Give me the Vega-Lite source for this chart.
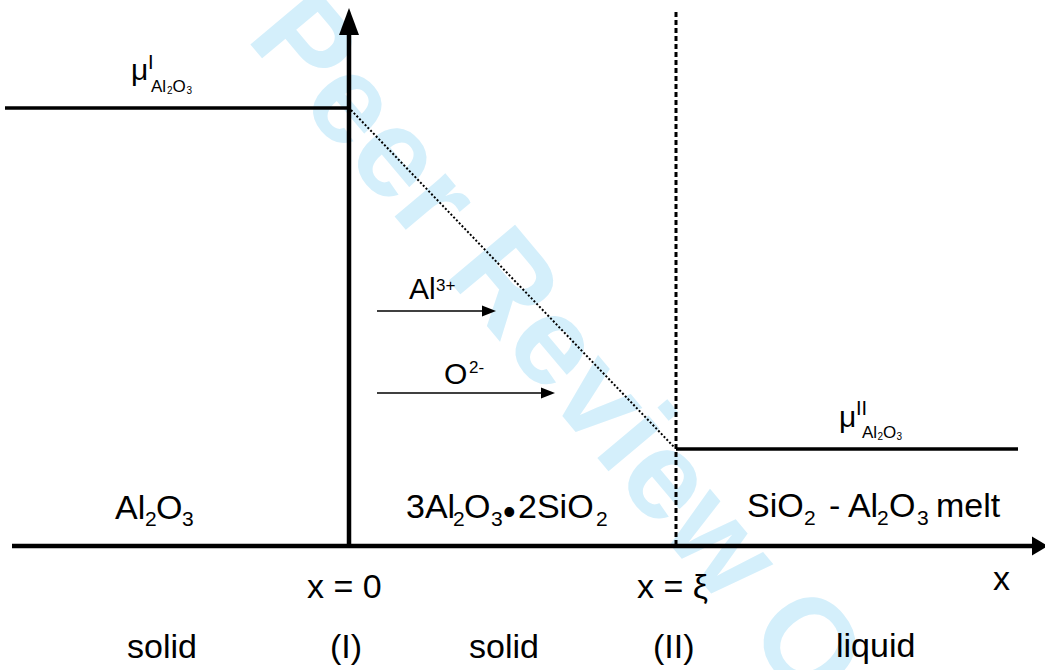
{
  "$schema": "https://vega.github.io/schema/vega-lite/v6.json",
  "width": 1045,
  "height": 670,
  "autosize": {"type": "none"},
  "padding": 0,
  "background": "white",
  "config": {"view": {"stroke": null}},
  "datasets": {
    "wm": [{"t": "Peer Review Only", "x": 245, "y": 38}],
    "axes": [
      {"x": 12, "y": 546, "x2": 1034, "y2": 546},
      {"x": 349, "y": 546, "x2": 349, "y2": 30}
    ],
    "mu": [
      {"x": 5, "y": 108, "x2": 349, "y2": 108},
      {"x": 676, "y": 449, "x2": 1018, "y2": 449}
    ],
    "dotted": [{"x": 351, "y": 110, "x2": 674, "y2": 447}],
    "dashed": [{"x": 676, "y": 12, "x2": 676, "y2": 546}],
    "thin": [
      {"x": 377, "y": 311, "x2": 486, "y2": 311},
      {"x": 377, "y": 393, "x2": 545, "y2": 393}
    ],
    "headRightBig": [{"x": 1048, "y": 546}],
    "headUp": [{"x": 349, "y": 8}],
    "headRightSmall": [{"x": 496, "y": 311}, {"x": 555, "y": 393}],
    "labels": [
      {"t": "Al", "x": 115, "y": 519, "role": "main"},
      {"t": "2", "x": 145, "y": 526, "role": "sub"},
      {"t": "O", "x": 156, "y": 519, "role": "main"},
      {"t": "3", "x": 182, "y": 526, "role": "sub"},
      {"t": "3Al", "x": 406, "y": 518, "role": "main"},
      {"t": "2", "x": 453, "y": 526, "role": "sub"},
      {"t": "O", "x": 464, "y": 518, "role": "main"},
      {"t": "3", "x": 491, "y": 526, "role": "sub"},
      {"t": "•", "x": 503, "y": 524, "role": "bullet"},
      {"t": "2SiO", "x": 518, "y": 518, "role": "main"},
      {"t": "2", "x": 596, "y": 526, "role": "sub"},
      {"t": "SiO", "x": 747, "y": 517, "role": "main"},
      {"t": "2", "x": 804, "y": 525, "role": "sub"},
      {"t": "- Al", "x": 829, "y": 517, "role": "main"},
      {"t": "2", "x": 877, "y": 525, "role": "sub"},
      {"t": "O", "x": 889, "y": 517, "role": "main"},
      {"t": "3", "x": 917, "y": 525, "role": "sub"},
      {"t": "melt", "x": 936, "y": 517, "role": "main"},
      {"t": "x = 0", "x": 307, "y": 598, "role": "main"},
      {"t": "x = ξ", "x": 637, "y": 598, "role": "main"},
      {"t": "x", "x": 993, "y": 590, "role": "main"},
      {"t": "solid", "x": 127, "y": 658, "role": "main"},
      {"t": "(I)", "x": 330, "y": 658, "role": "main"},
      {"t": "solid", "x": 469, "y": 658, "role": "main"},
      {"t": "(II)", "x": 653, "y": 658, "role": "main"},
      {"t": "liquid", "x": 836, "y": 657, "role": "main"},
      {"t": "μ", "x": 131, "y": 80, "role": "mu"},
      {"t": "I", "x": 148, "y": 69, "role": "musup"},
      {"t": "Al", "x": 151, "y": 92, "role": "musub"},
      {"t": "2", "x": 167, "y": 94, "role": "musubsub"},
      {"t": "O", "x": 172.5, "y": 92, "role": "musub"},
      {"t": "3", "x": 186.5, "y": 94, "role": "musubsub"},
      {"t": "μ", "x": 839, "y": 427, "role": "mu"},
      {"t": "II", "x": 856, "y": 415, "role": "musup"},
      {"t": "Al", "x": 862, "y": 438, "role": "musub"},
      {"t": "2", "x": 877.5, "y": 440, "role": "musubsub"},
      {"t": "O", "x": 883, "y": 438, "role": "musub"},
      {"t": "3", "x": 896.5, "y": 440, "role": "musubsub"},
      {"t": "Al", "x": 409, "y": 299, "role": "ion"},
      {"t": "3+", "x": 436, "y": 291, "role": "ionsup"},
      {"t": "O", "x": 444, "y": 384, "role": "ion"},
      {"t": "2-", "x": 469, "y": 373, "role": "ionsup"}
    ]
  },
  "encoding": {
    "x": {"field": "x", "type": "quantitative", "scale": {"domain": [0, 1045], "nice": false, "zero": false}, "axis": null},
    "y": {"field": "y", "type": "quantitative", "scale": {"domain": [0, 670], "nice": false, "zero": false, "reverse": true}, "axis": null}
  },
  "layer": [
    {
      "data": {"name": "wm"},
      "mark": {"type": "text", "angle": 50, "fontSize": 126, "fontWeight": "bold", "font": "Liberation Sans", "color": "#d4effb", "align": "left", "baseline": "alphabetic"},
      "encoding": {"text": {"field": "t"}}
    },
    {
      "data": {"name": "axes"},
      "mark": {"type": "rule", "strokeWidth": 4.5, "color": "black"},
      "encoding": {"x2": {"field": "x2"}, "y2": {"field": "y2"}}
    },
    {
      "data": {"name": "mu"},
      "mark": {"type": "rule", "strokeWidth": 3.5, "color": "black"},
      "encoding": {"x2": {"field": "x2"}, "y2": {"field": "y2"}}
    },
    {
      "data": {"name": "dotted"},
      "mark": {"type": "rule", "strokeWidth": 2, "strokeDash": [2, 2], "color": "black"},
      "encoding": {"x2": {"field": "x2"}, "y2": {"field": "y2"}}
    },
    {
      "data": {"name": "dashed"},
      "mark": {"type": "rule", "strokeWidth": 3, "strokeDash": [5, 3], "color": "black"},
      "encoding": {"x2": {"field": "x2"}, "y2": {"field": "y2"}}
    },
    {
      "data": {"name": "thin"},
      "mark": {"type": "rule", "strokeWidth": 1.3, "color": "black"},
      "encoding": {"x2": {"field": "x2"}, "y2": {"field": "y2"}}
    },
    {
      "data": {"name": "headRightBig"},
      "mark": {"type": "point", "shape": "M 0 0 L -1 -0.6 L -1 0.6 Z", "size": 1024, "filled": true, "opacity": 1, "color": "black", "strokeWidth": 0}
    },
    {
      "data": {"name": "headUp"},
      "mark": {"type": "point", "shape": "M 0 0 L -0.37 1 L 0.37 1 Z", "size": 2916, "filled": true, "opacity": 1, "color": "black", "strokeWidth": 0}
    },
    {
      "data": {"name": "headRightSmall"},
      "mark": {"type": "point", "shape": "M 0 0 L -1 -0.4 L -1 0.4 Z", "size": 784, "filled": true, "opacity": 1, "color": "black", "strokeWidth": 0}
    },
    {
      "data": {"name": "labels"},
      "mark": {"type": "text", "font": "Liberation Sans", "color": "black", "align": "left", "baseline": "alphabetic"},
      "encoding": {
        "text": {"field": "t"},
        "size": {
          "field": "role",
          "type": "nominal",
          "legend": null,
          "scale": {
            "type": "ordinal",
            "domain": ["main", "sub", "bullet", "mu", "musup", "musub", "musubsub", "ion", "ionsup"],
            "range": [34, 21, 36, 30, 20, 17, 10, 30, 17]
          }
        }
      }
    }
  ]
}
